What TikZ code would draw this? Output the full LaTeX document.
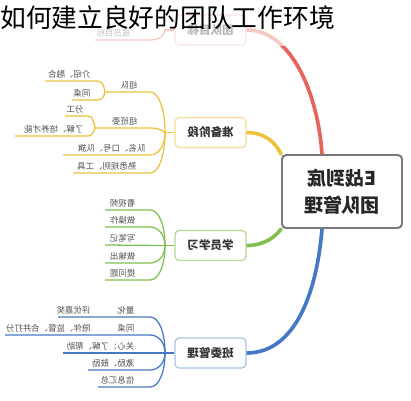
\documentclass[tikz,border=0pt]{standalone}
\usepackage{fontspec}
\usepackage{graphicx}
\newfontfamily\cjk{Noto Sans CJK SC}
\usetikzlibrary{positioning,calc}
\definecolor{HubGray}{RGB}{120,120,125}
\definecolor{TgtRed}{RGB}{232,100,90}
\definecolor{PrepYel}{RGB}{236,194,60}
\definecolor{StudyGrn}{RGB}{130,190,80}
\definecolor{CommBlu}{RGB}{70,120,200}
\definecolor{LeafGray}{RGB}{80,80,80}
\newcommand{\flip}[1]{\reflectbox{#1}}
\pgfdeclarelayer{bg}
\pgfsetlayers{bg,main}
\tikzset{
	hub/.style={draw=HubGray,line width=1.4pt,rounded corners=3pt,fill=white,
		minimum width=30mm,minimum height=18.25mm,align=center,inner sep=0pt,
		text=black!85,font=\cjk\bfseries\fontsize{13.5}{19}\selectfont},
	stage/.style={line width=0.9pt,rounded corners=3pt,fill=white,inner sep=0pt,
		minimum width=17.75mm,minimum height=7.5mm,text=black!80,
		font=\cjk\bfseries\fontsize{8.2}{10}\selectfont},
	leaf/.style={inner sep=1pt,text=LeafGray,font=\cjk\fontsize{6}{7}\selectfont},
	trunk/.style={line width=2.6pt,line cap=round},
	twig/.style={line width=0.9pt},
	heading/.style={inner sep=0pt,text=black,font=\cjk\fontsize{18.3}{20}\selectfont},
}

\begin{document}
\begin{tikzpicture}[x=0.25mm,y=-0.25mm]
	\useasboundingbox (0,0) rectangle (411,400);
	% boxes
	\node[hub] (ctr) at (342,191.5) {\flip{E战到底}\\\flip{团队管理}};
	\node[stage,draw=TgtRed!45] (tgt) at (210.5,30) {\flip{团队目标}};
	\node[stage,draw=PrepYel!55] (prep) at (210.5,132.5) {\flip{准备阶段}};
	\node[stage,draw=StudyGrn!60] (study) at (210.5,245.5) {\flip{学员学习}};
	\node[stage,draw=CommBlu!45] (comm) at (210.5,353) {\flip{班委管理}};
	\begin{pgfonlayer}{bg}
		\draw[trunk,TgtRed] (tgt.east) .. controls (292,30) and (318,95) .. ([xshift=-5mm]ctr.north);
		\draw[trunk,PrepYel] (prep.east) .. controls (265,132.5) and (276,143) .. (ctr.north west);
		\draw[trunk,StudyGrn] (study.east) .. controls (265,245.5) and (276,236) .. (ctr.south west);
		\draw[trunk,CommBlu] ([xshift=-5mm]ctr.south) .. controls (316,300) and (292,353) .. (comm.east);
	\end{pgfonlayer}
	% red branch
	\coordinate (rf) at (165,30);
	\coordinate (r1) at (95,40);
	\draw[twig,TgtRed] (tgt.west) -- (rf);
	\draw[twig,TgtRed] (rf) .. controls (165,36) and (158,40) .. (150,40) -- (r1);
	\node[leaf,anchor=south east] (r1t) at (132,39) {\flip{成员目标}};
	% yellow branch
	\coordinate (pf) at (165,132.5);
	\coordinate (y1) at (105,92);
	\coordinate (y2) at (95,128);
	\coordinate (y3) at (63,155);
	\coordinate (y4) at (73,173);
	\coordinate (y11) at (45,81);
	\coordinate (y12) at (72,100);
	\coordinate (y21) at (65,116);
	\coordinate (y22) at (15,136);
	\draw[twig,PrepYel] (prep.west) -- (pf);
	\draw[twig,PrepYel] (pf) .. controls (165,110) and (159,92) .. (150,92) -- (y1);
	\draw[twig,PrepYel] (pf) .. controls (162,130) and (158,128) .. (150,128) -- (y2);
	\draw[twig,PrepYel] (pf) .. controls (165,145) and (159,155) .. (150,155) -- (y3);
	\draw[twig,PrepYel] (pf) .. controls (165,155) and (159,173) .. (150,173) -- (y4);
	\draw[twig,PrepYel] (y1) .. controls (104,85) and (102,81) .. (97,81) -- (y11);
	\draw[twig,PrepYel] (y1) .. controls (104,97) and (102,100) .. (97,100) -- (y12);
	\draw[twig,PrepYel] (y2) .. controls (94,121) and (92,116) .. (88,116) -- (y21);
	\draw[twig,PrepYel] (y2) .. controls (94,132) and (92,136) .. (88,136) -- (y22);
	\node[leaf,anchor=south east] (y1t) at (139,91) {\flip{组队}};
	\node[leaf,anchor=south east] (y11t) at (92,80) {\flip{介绍、融合}};
	\node[leaf,anchor=south east] (y12t) at (92,99) {\flip{同桌}};
	\node[leaf,anchor=south east] (y2t) at (139,127) {\flip{组班委}};
	\node[leaf,anchor=south east] (y21t) at (85,115) {\flip{分工}};
	\node[leaf,anchor=south east] (y22t) at (85,135) {\flip{了解、培养才能}};
	\node[leaf,anchor=south east] (y3t) at (147,154) {\flip{队名、口号、队旗}};
	\node[leaf,anchor=south east] (y4t) at (138,172) {\flip{熟悉规则、工具}};
	% green branch
	\coordinate (sf) at (165,245.5);
	\coordinate (g1) at (105,210);
	\coordinate (g2) at (105,227);
	\coordinate (g3) at (105,245);
	\coordinate (g4) at (105,263);
	\coordinate (g5) at (105,280);
	\draw[twig,StudyGrn] (study.west) -- (sf);
	\draw[twig,StudyGrn] (sf) .. controls (165,225) and (159,210) .. (150,210) -- (g1);
	\draw[twig,StudyGrn] (sf) .. controls (165,236) and (159,227) .. (150,227) -- (g2);
	\draw[twig,StudyGrn] (sf) -- (g3);
	\draw[twig,StudyGrn] (sf) .. controls (165,255) and (159,263) .. (150,263) -- (g4);
	\draw[twig,StudyGrn] (sf) .. controls (165,265) and (159,280) .. (150,280) -- (g5);
	\node[leaf,anchor=south east] (g1t) at (137,209) {\flip{看视频}};
	\node[leaf,anchor=south east] (g2t) at (137,226) {\flip{做操作}};
	\node[leaf,anchor=south east] (g3t) at (137,244) {\flip{写笔记}};
	\node[leaf,anchor=south east] (g4t) at (137,262) {\flip{做输出}};
	\node[leaf,anchor=south east] (g5t) at (137,279) {\flip{提问题}};
	% blue branch
	\coordinate (cf) at (165,353);
	\coordinate (b1) at (58,317);
	\coordinate (b2) at (5,335);
	\coordinate (b3) at (63,353);
	\coordinate (b4) at (88,370);
	\coordinate (b5) at (98,387);
	\draw[twig,CommBlu] (comm.west) -- (cf);
	\draw[twig,CommBlu] (cf) .. controls (165,332) and (159,317) .. (150,317) -- (b1);
	\draw[twig,CommBlu] (cf) .. controls (165,343) and (159,335) .. (150,335) -- (b2);
	\draw[twig,CommBlu] (cf) -- (b3);
	\draw[twig,CommBlu] (cf) .. controls (165,362) and (159,370) .. (150,370) -- (b4);
	\draw[twig,CommBlu] (cf) .. controls (165,372) and (159,387) .. (150,387) -- (b5);
	\node[leaf,anchor=south east] (b1t) at (136,316) {\flip{量化}};
	\node[leaf,anchor=south east] (b11t) at (92,316) {\flip{评优嘉奖}};
	\node[leaf,anchor=south east] (b2t) at (136,334) {\flip{同桌}};
	\node[leaf,anchor=south east] (b21t) at (92,334) {\flip{陪伴、监督、合并打分}};
	\node[leaf,anchor=south east] (b3t) at (136,352) {\flip{关心：了解、帮助}};
	\node[leaf,anchor=south east] (b4t) at (136,369) {\flip{激励、鼓励}};
	\node[leaf,anchor=south east] (b5t) at (136,386) {\flip{信息汇总}};
	% title over a pale band
	\fill[white,opacity=0.65] (0,0) rectangle (411,46);
	\node[heading,anchor=west] (ttl) at (0,18) {如何建立良好的团队工作环境};
\end{tikzpicture}
\end{document}
